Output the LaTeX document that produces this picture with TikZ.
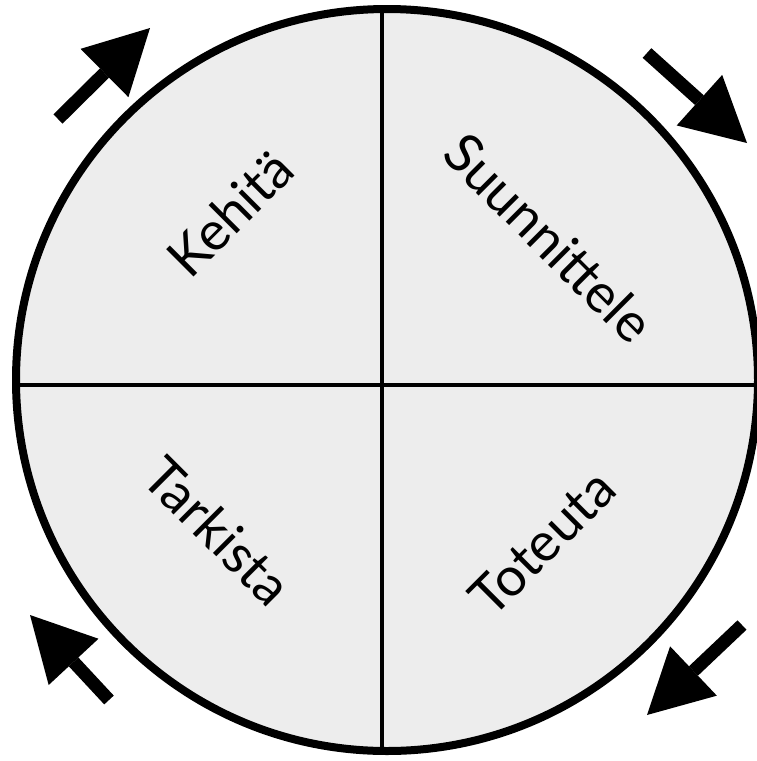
\documentclass[tikz,border=0pt]{standalone}
\usepackage{fontspec}
\setmainfont{Lato}
\usetikzlibrary{arrows.meta}

\definecolor{wheelgray}{RGB}{237,237,237}

\begin{document}
\begin{tikzpicture}[x=1pt, y=-1pt,
    phase/.style={font=\fontsize{54}{64}\selectfont, inner sep=0pt},
    turn/.style={line width=13pt, -{Triangle[length=64pt, width=68pt, line width=0pt]}}]
  \useasboundingbox (0,0) rectangle (756,761);

  % Wheel and quarters
  \node[circle, draw, line width=8pt, fill=wheelgray, inner sep=0pt,
        minimum size=742pt] (wheel) at (387,380) {};
  \draw[line width=4.5pt] (382,9) -- (382,751);
  \draw[line width=4.5pt] (16,385) -- (758,385);

  % Phases
  \node[phase, rotate=45] (kehita) at (230,213) {Kehitä};
  \node[phase, rotate=-45] (suunnittele) at (549,238) {Suunnittele};
  \node[phase, rotate=-45] (tarkista) at (218,531) {Tarkista};
  \node[phase, rotate=45] (toteuta) at (542,543) {Toteuta};

  % Direction of the cycle
  \draw[turn] (58,119) -- (150,28);
  \draw[turn] (647,53) -- (747,143);
  \draw[turn] (742,625) -- (647,715);
  \draw[turn] (109,700) -- (30,615);
\end{tikzpicture}
\end{document}
